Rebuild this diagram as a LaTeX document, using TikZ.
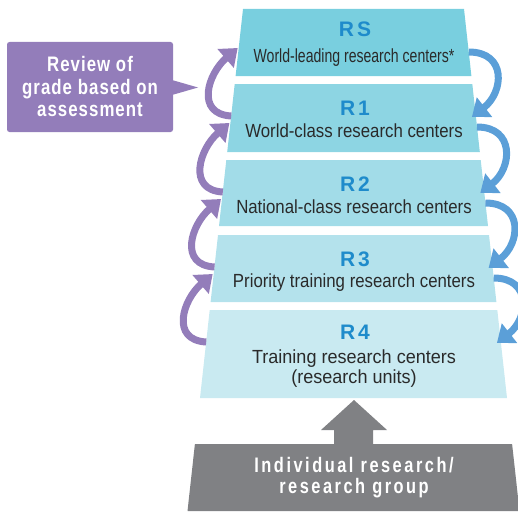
\documentclass[tikz,border=0pt]{standalone}
\usepackage{fontspec}
\setmainfont{Liberation Sans}
\newfontfamily\descA[FakeStretch=0.885]{Liberation Sans}
\newfontfamily\descS[FakeStretch=0.74]{Liberation Sans}
\newfontfamily\descN[FakeStretch=0.95]{Liberation Sans}
\newfontfamily\rfont[LetterSpace=14]{Liberation Sans}
\newfontfamily\pfont[FakeStretch=0.8,LetterSpace=5]{Liberation Sans}
\newfontfamily\gfont[FakeStretch=0.78,LetterSpace=12]{Liberation Sans}
\usetikzlibrary{arrows.meta}
\definecolor{cRS}{HTML}{79CFDF}
\definecolor{cR1}{HTML}{8DD5E3}
\definecolor{cR2}{HTML}{A2DCE8}
\definecolor{cR3}{HTML}{B4E2EC}
\definecolor{cR4}{HTML}{C9EAF1}
\definecolor{purp}{HTML}{937DBA}
\definecolor{bluearr}{HTML}{5B9FD8}
\definecolor{rblue}{HTML}{1E8BCB}
\definecolor{txt}{HTML}{2A2A2A}
\definecolor{grayb}{HTML}{808184}
\tikzset{
  rlab/.style={inner sep=0pt, anchor=base, text=rblue, font=\rfont\bfseries\fontsize{21}{22}\selectfont},
  desc/.style={inner sep=0pt, anchor=base, text=txt},
  parr/.style={draw=purp, line width=7pt, -{Triangle[length=16pt,width=24pt]}},
  barr/.style={draw=bluearr, line width=7pt, -{Triangle[length=16pt,width=24pt]}},
}
\begin{document}
\begin{tikzpicture}[x=1pt,y=-1pt]
\useasboundingbox (0,0) rectangle (518,511);
\clip (0,0) rectangle (518,511);

% bands
\fill[cRS] (243,9) -- (464,9) -- (471.4,76) -- (235.6,76) -- cycle;
\fill[cR1] (234.7,84) -- (472.3,84) -- (479.8,152) -- (227.2,152) -- cycle;
\fill[cR2] (226.3,160) -- (480.7,160) -- (488.0,226) -- (219.0,226) -- cycle;
\fill[cR3] (218.0,235) -- (489.0,235) -- (496.4,302) -- (210.6,302) -- cycle;
\fill[cR4] (209.7,310) -- (497.3,310) -- (507.0,398) -- (200.0,398) -- cycle;

% texts in bands
\node[rlab] (rs) at (355,37) {RS};
\node[desc, font=\descS\fontsize{19}{21}\selectfont] (rsd) at (354,62) {World-leading research centers*};
\node[rlab] (r1) at (355,115) {R1};
\node[desc, font=\descA\fontsize{19}{21}\selectfont] (r1d) at (354,137) {World-class research centers};
\node[rlab] (r2) at (355,191) {R2};
\node[desc, font=\descA\fontsize{19}{21}\selectfont] (r2d) at (354,213) {National-class research centers};
\node[rlab] (r3) at (355,266) {R3};
\node[desc, font=\descA\fontsize{19}{21}\selectfont] (r3d) at (354,287) {Priority training research centers};
\node[rlab] (r4) at (355,339) {R4};
\node[inner sep=0pt, text=txt, align=center, font=\descN\fontsize{19}{20}\selectfont] (r4d) at (354,368.2) {Training research centers\\(research units)};

% purple review box
\fill[purp, rounded corners=2.5pt] (7,42) rectangle (173,132);
\fill[purp] (172,80) -- (198,87.5) -- (172,95) -- cycle;
\node[inner sep=0pt, text=white, align=center, font=\pfont\bfseries\fontsize{21}{22.5}\selectfont] (review) at (90,86.9) {Review of\\grade based on\\assessment};

% gray base
\fill[grayb] (194.9,444) -- (512.1,444) -- (519.5,511) -- (187.5,511) -- cycle;
\fill[grayb] (334,445) -- (334,430) -- (321,430) -- (354,400) -- (387,430) -- (373,430) -- (373,445) -- cycle;
\node[inner sep=0pt, text=white, align=center, font=\gfont\bfseries\fontsize{21}{21}\selectfont] (base) at (354,478) {Individual research/\\research group};

% arrow end points
\coordinate (p1t) at (231.2,116); \coordinate (p1h) at (237.7,48);
\coordinate (p2t) at (222.8,192); \coordinate (p2h) at (229.4,123);
\coordinate (p3t) at (214.5,267); \coordinate (p3h) at (221.0,199);
\coordinate (p4t) at (206.2,342); \coordinate (p4h) at (212.7,274);

\draw[parr] (p1t) .. controls (195.2,114) and (207.7,74) .. (p1h);
\draw[parr] (p2t) .. controls (186.8,190) and (199.4,149) .. (p2h);
\draw[parr] (p3t) .. controls (178.5,265) and (191.0,225) .. (p3h);
\draw[parr] (p4t) .. controls (170.2,340) and (182.7,300) .. (p4h);

\coordinate (b1t) at (468.8,52);  \coordinate (b1h) at (471.9,117);
\coordinate (b2t) at (477.0,127); \coordinate (b2h) at (480.3,193);
\coordinate (b3t) at (485.4,203); \coordinate (b3h) at (488.6,268);
\coordinate (b4t) at (493.7,278); \coordinate (b4h) at (496.9,343);

\draw[barr] (b1t) .. controls (506.8,52) and (503.9,92) .. (b1h);
\draw[barr] (b2t) .. controls (515.0,127) and (512.3,168) .. (b2h);
\draw[barr] (b3t) .. controls (523.4,203) and (520.6,243) .. (b3h);
\draw[barr] (b4t) .. controls (531.7,278) and (528.9,318) .. (b4h);
\end{tikzpicture}
\end{document}
